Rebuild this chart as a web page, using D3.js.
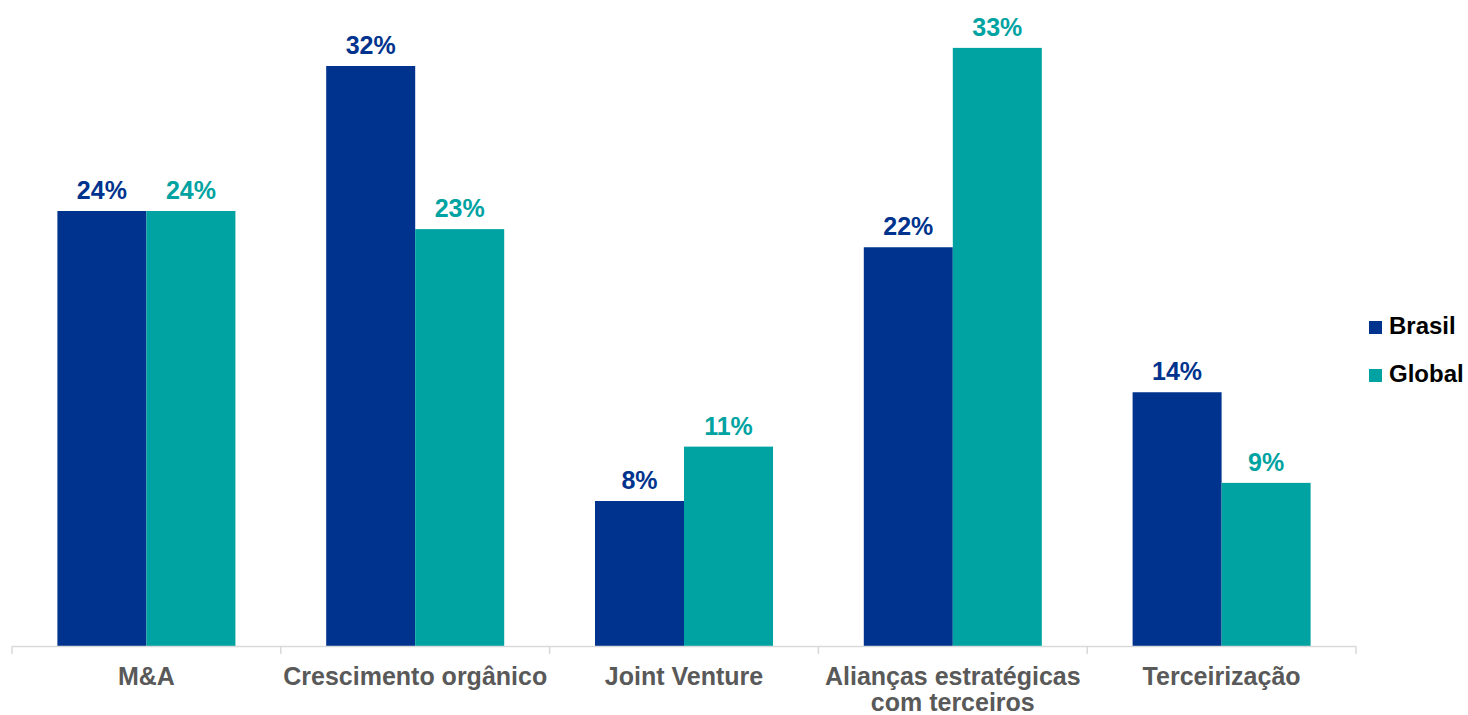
<!DOCTYPE html>
<html>
<head>
<meta charset="utf-8">
<script src="https://cdn.jsdelivr.net/npm/d3@7"></script>
<style>
  html, body { margin: 0; padding: 0; background: #fff; }
  svg { display: block; font-family: "Liberation Sans", Arial, sans-serif; }
</style>
</head>
<body>
<svg id="chart" width="1468" height="715"></svg>
<script>
// Categories (each label may span several lines)
const categories = [
  ["M&A"],
  ["Crescimento orgânico"],
  ["Joint Venture"],
  ["Alianças estratégicas", "com terceiros"],
  ["Terceirização"]
];
const seriesNames = ["Brasil", "Global"];
const brasilValues = [24, 32, 8, 22, 14];
const globalValues = [24, 23, 11, 33, 9];
const seriesColors = ["#00338D", "#00A3A1"];

const svg = d3.select("#chart");
const axisLeft = 12, axisRight = 1356, baseline = 646;

const x = d3.scaleBand()
  .domain(d3.range(categories.length))
  .range([axisLeft, axisRight])
  .paddingInner(0)
  .paddingOuter(0);

const inner = d3.scaleBand()
  .domain(seriesNames)
  .range([0, x.bandwidth()])
  .paddingOuter(0.51)
  .paddingInner(0);

const y = d3.scaleLinear().domain([0, 24]).range([baseline, 211]);

const data = categories.map((c, i) => ({
  idx: i,
  values: [
    { series: "Brasil", value: brasilValues[i], color: seriesColors[0] },
    { series: "Global", value: globalValues[i], color: seriesColors[1] }
  ]
}));

const groups = svg.selectAll("g.cat")
  .data(data)
  .join("g")
  .attr("class", "cat")
  .attr("transform", d => `translate(${x(d.idx)},0)`);

groups.selectAll("rect")
  .data(d => d.values)
  .join("rect")
  .attr("x", d => inner(d.series))
  .attr("width", inner.bandwidth())
  .attr("y", d => y(d.value))
  .attr("height", d => baseline - y(d.value))
  .attr("fill", d => d.color);

groups.selectAll("text.val")
  .data(d => d.values)
  .join("text")
  .attr("class", "val")
  .attr("x", d => inner(d.series) + inner.bandwidth() / 2)
  .attr("y", d => y(d.value) - 12)
  .attr("text-anchor", "middle")
  .attr("font-size", 25)
  .attr("font-weight", "bold")
  .attr("fill", d => d.color)
  .text(d => d.value + "%");

// Category axis with boundary ticks
const axisG = svg.append("g");
axisG.append("line")
  .attr("x1", axisLeft).attr("x2", axisRight)
  .attr("y1", baseline + 0.5).attr("y2", baseline + 0.5)
  .attr("stroke", "#d9d9d9").attr("stroke-width", 1.5);

const boundaries = d3.range(categories.length + 1).map(i => axisLeft + i * x.step());
axisG.selectAll("line.tick")
  .data(boundaries)
  .join("line")
  .attr("class", "tick")
  .attr("x1", d => d).attr("x2", d => d)
  .attr("y1", baseline).attr("y2", baseline + 8)
  .attr("stroke", "#d9d9d9").attr("stroke-width", 1.5);

const labels = axisG.selectAll("text.cat")
  .data(categories.map((c, i) => ({ lines: c, idx: i })))
  .join("text")
  .attr("class", "cat")
  .attr("x", d => x(d.idx) + x.bandwidth() / 2)
  .attr("y", 685)
  .attr("text-anchor", "middle")
  .attr("font-size", 25)
  .attr("font-weight", "bold")
  .attr("fill", "#595959");

labels.selectAll("tspan")
  .data(d => d.lines.map((l, j) => ({ l, j, cx: x(d.idx) + x.bandwidth() / 2 })))
  .join("tspan")
  .attr("x", d => d.cx)
  .attr("dy", d => d.j === 0 ? 0 : 26)
  .text(d => d.l);

// Legend
const legend = svg.append("g").attr("transform", "translate(1369,0)");
const legendItems = legend.selectAll("g")
  .data(seriesNames.map((s, i) => ({ s, color: seriesColors[i], i })))
  .join("g")
  .attr("transform", d => `translate(0,${321 + d.i * 48})`);
legendItems.append("rect")
  .attr("width", 13).attr("height", 13)
  .attr("fill", d => d.color);
legendItems.append("text")
  .attr("x", 20).attr("y", 13)
  .attr("font-size", 24)
  .attr("font-weight", "bold")
  .attr("fill", "#000")
  .text(d => d.s);
</script>
</body>
</html>
